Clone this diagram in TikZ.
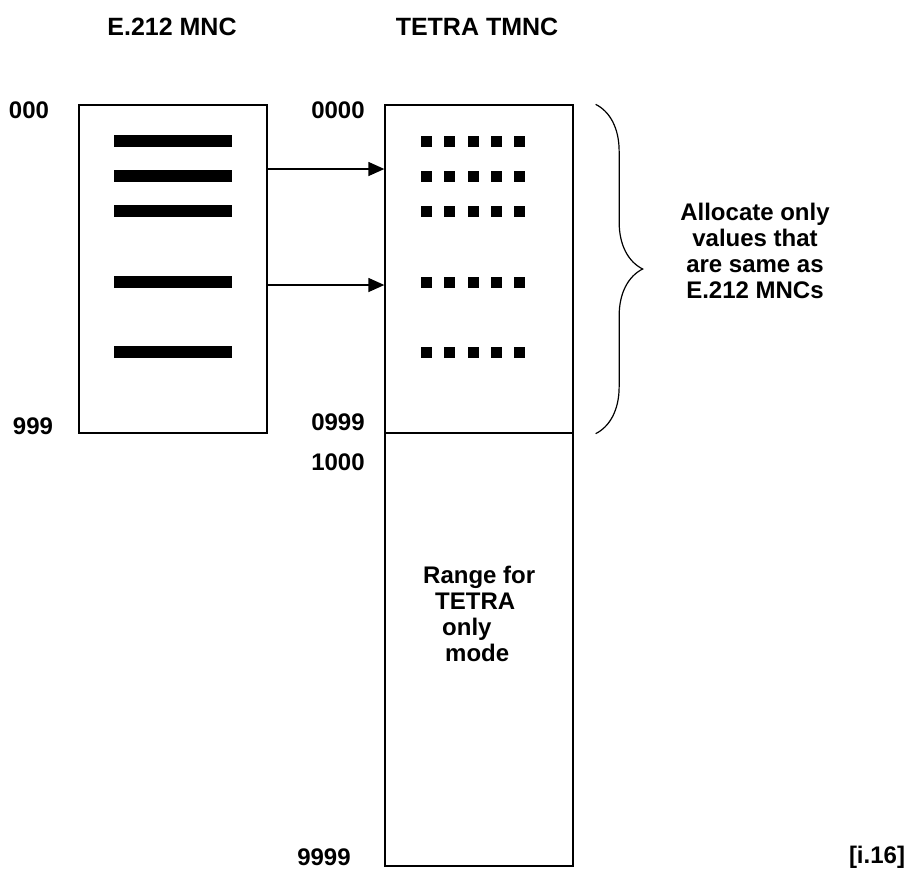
\documentclass[tikz,border=0pt]{standalone}
\usepackage{fontspec}
\setmainfont{Liberation Sans}
\usetikzlibrary{positioning,arrows.meta,decorations.pathreplacing}

\begin{document}
\begin{tikzpicture}[x=1pt, y=-1pt, >={Triangle[length=16pt,width=14pt]},
  every node/.style={font=\fontsize{24}{26}\selectfont\bfseries},
  rangebox/.style={draw, line width=1.3pt, minimum width=188pt, inner sep=0pt},
  bar/.style={fill=black, minimum width=118pt, minimum height=11.5pt, inner sep=0pt},
  dot/.style={fill=black, minimum size=11pt, inner sep=0pt}]
  \useasboundingbox (0,0) rectangle (910,879);
  % titles
  \node[font=\fontsize{25}{28}\selectfont\bfseries] (tmnc) at (172,27) {E.212 MNC};
  \node[font=\fontsize{25}{28}\selectfont\bfseries] (ttetra) at (477,27) {TETRA TMNC};
  % number ranges
  \node[rangebox, minimum height=328pt] (mnc) at (173,269) {};
  \node[rangebox, minimum height=328pt] (low) at (479,269) {};
  \node[rangebox, minimum height=433pt] (high) at (479,649.5) {};
  \foreach \y [count=\i] in {141,176,211,282,352} {
    \node[bar] (bar\i) at (173,\y) {};
    \foreach \x [count=\j] in {426,449,473,496,519}
      \node[dot] (dot\i\j) at (\x,\y) {};
  }
  \draw[->, line width=1.3pt] ([yshift=7pt]mnc.east |- bar2) -- ([yshift=7pt]low.west |- bar2);
  \draw[->, line width=1.3pt] ([yshift=-3pt]mnc.east |- bar4) -- ([yshift=-3pt]low.west |- bar4);
  % limits
  \node (n000) at (29,110) {000};
  \node (n999) at (33,426) {999};
  \node (n0000) at (338,110) {0000};
  \node (n0999) at (338,422) {0999};
  \node (n1000) at (338,462) {1000};
  \node (n9999) at (324,857) {9999};
  \node (ref) at (877,857) {[i.16]};
  % brace and notes
  \draw[decorate, decoration={brace, amplitude=47pt}, line width=1.2pt]
    ([xshift=22pt]low.north east) -- ([xshift=22pt]low.south east);
  \node[align=center] (alloc) at (755,251) {Allocate only\\values that\\are same as\\E.212 MNCs};
  \node[align=left, anchor=west, inner sep=0pt] (rtext) at (423,614) {Range for\\\hspace*{12pt}TETRA\\\hspace*{19pt}only\\\hspace*{22pt}mode};
\end{tikzpicture}
\end{document}
